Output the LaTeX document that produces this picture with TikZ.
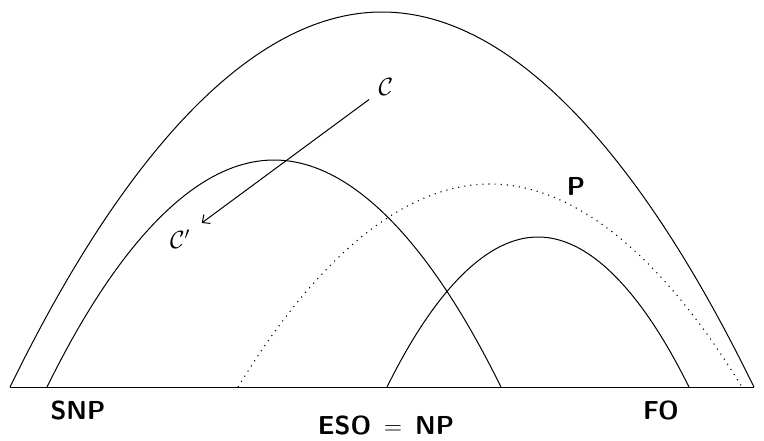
\documentclass[tikz,border=0pt]{standalone}
\usetikzlibrary{arrows.meta}
\begin{document}
\begin{tikzpicture}[x=1pt,y=-1pt,
  curve/.style={line width=1pt},
  dotcurve/.style={line width=1.1pt,dash pattern=on 1.1pt off 5pt},
  lbl/.style={font=\fontsize{26}{30}\selectfont\sffamily\bfseries,inner sep=0pt},
  mlbl/.style={font=\fontsize{26}{30}\selectfont,inner sep=0pt}]
\useasboundingbox (0,0) rectangle (764,440);
% feet and peaks
\coordinate (bigL) at (10,387);
\coordinate (bigT) at (382,12);
\coordinate (bigR) at (754,387);
\coordinate (snpL) at (47,387);
\coordinate (snpT) at (274,160);
\coordinate (snpR) at (501,387);
\coordinate (pL) at (238,387);
\coordinate (pT) at (490,184);
\coordinate (pR) at (742,387);
\coordinate (foL) at (387,387);
\coordinate (foT) at (538,237);
\coordinate (foR) at (689,387);
\draw[curve] (bigL) -- (bigR);
\draw[curve] (bigL) parabola bend (bigT) (bigR);
\draw[curve] (snpL) parabola bend (snpT) (snpR);
\draw[dotcurve] (pL) parabola bend (pT) (pR);
\draw[curve] (foL) parabola bend (foT) (foR);
% labels
\node[lbl] (snp) at (78,410) {SNP};
\node[lbl] (eso) at (386,425) {ESO\hspace*{13pt}$=$\hspace*{13pt}NP};
\node[lbl] (fo) at (661,410) {FO};
\node[lbl] (p) at (576,186) {P};
\node[mlbl] (C) at (386,87) {$\mathcal{C}$};
\node[mlbl] (Cp) at (180,239) {$\mathcal{C}'$};
\draw[curve,-{Straight Barb[length=6pt,width=11pt]},shorten <=21pt,shorten >=27pt] (C.center) -- (Cp.center);
\end{tikzpicture}
\end{document}
